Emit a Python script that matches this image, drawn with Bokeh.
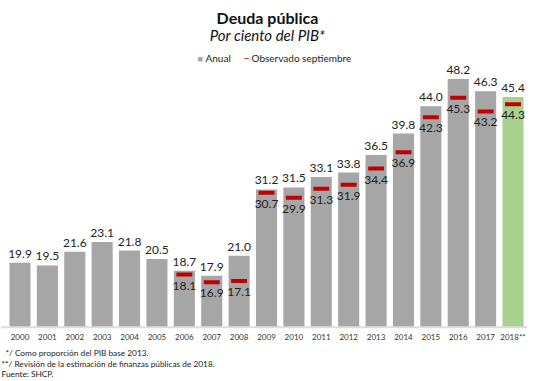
from bokeh.plotting import figure
from bokeh.models import ColumnDataSource, Label, Range1d, Span
from bokeh.core.properties import value
from bokeh.embed import file_html
from bokeh.resources import INLINE

years = ["2000", "2001", "2002", "2003", "2004", "2005", "2006", "2007", "2008", "2009",
         "2010", "2011", "2012", "2013", "2014", "2015", "2016", "2017", "2018**"]
anual = [19.9, 19.5, 21.6, 23.1, 21.8, 20.5, 18.7, 17.9, 21.0, 31.2,
         31.5, 33.1, 33.8, 36.5, 39.8, 44.0, 48.2, 46.3, 45.4]
obs_years = ["2006", "2007", "2008", "2009", "2010", "2011", "2012", "2013", "2014",
             "2015", "2016", "2017", "2018**"]
observado = [18.1, 16.9, 17.1, 30.7, 29.9, 31.3, 31.9, 34.4, 36.9, 42.3, 45.3, 43.2, 44.3]

FONT = "Lato"
W, H = 527, 380
base = 10.0

xs = list(range(len(years)))
colors = ["#A6A6A6"] * (len(years) - 1) + ["#A9D18E"]
src = ColumnDataSource(dict(x=xs, top=anual, color=colors,
                            lab=[f"{v:.1f}" for v in anual]))
oxs = [years.index(y) for y in obs_years]
osrc = ColumnDataSource(dict(x=oxs, y=observado, lab=[f"{v:.1f}" for v in observado]))
tsrc = ColumnDataSource(dict(x=xs, lab=years))

ppu = 6.5
sp = 27.39
y0 = 326.7   # baseline position from top
x0 = 19.5    # first bar center from left
p = figure(width=W, height=H, output_backend="svg", toolbar_location=None,
           x_range=Range1d(-x0 / sp, (W - x0) / sp),
           y_range=Range1d(base - (H - y0) / ppu, base + y0 / ppu),
           min_border=0)
p.axis.visible = False
p.grid.visible = False
p.outline_line_color = None
p.background_fill_color = "white"

p.vbar(x="x", top="top", bottom=base, width=0.77, fill_color="color",
       line_color=None, source=src)
p.add_layout(Span(location=base, dimension="width", line_color="#DDDDDD", line_width=2))

p.rect(x="x", y="y", width=0.58, height=4, height_units="screen",
       fill_color="#C00000", line_color=None, source=osrc)

p.text(x="x", y="top", text="lab", source=src, text_align="center",
       text_baseline="bottom", y_offset=-5, text_font=value(FONT),
       text_font_size="12px", text_color="#222222")
p.text(x="x", y="y", text="lab", source=osrc, text_align="center",
       text_baseline="top", y_offset=7, text_font=value(FONT),
       text_font_size="12px", text_color="#222222")
p.text(x="x", y=base, text="lab", source=tsrc, text_align="center",
       text_baseline="middle", y_offset=10, text_font=value(FONT),
       text_font_size="8px", text_color="#333333")

def lab(x, y, t, size, style="normal", align="left", color="#222222"):
    p.add_layout(Label(x=x, y=H - y, x_units="screen", y_units="screen", text=t,
                       text_font=FONT, text_font_size=size, text_font_style=style,
                       text_align=align, text_baseline="middle", text_color=color))

lab(267, 17, "Deuda pública", "16px", "bold", "center", "#111111")
lab(267, 34, "Por ciento del PIB*", "15px", "italic", "center", "#111111")
p.add_layout(Label(x=197, y=H - 58, x_units="screen", y_units="screen", text="■",
                   text_font=FONT, text_font_size="9px", text_color="#A6A6A6",
                   text_baseline="middle"))
lab(205, 57, "Anual", "10px")
p.add_layout(Label(x=243, y=H - 57, x_units="screen", y_units="screen", text="–",
                   text_font=FONT, text_font_size="11px", text_color="#C00000",
                   text_baseline="middle"))
lab(251, 57, "Observado septiembre", "10px")

lab(5, 352, " */ Como proporción del PIB base 2013.", "8.3px")
lab(1, 363, "**/ Revisión de la estimación de finanzas públicas de 2018.", "8.3px")
lab(1, 373, "Fuente: SHCP.", "8.3px")

open("out.html", "w").write(file_html(p, INLINE))
